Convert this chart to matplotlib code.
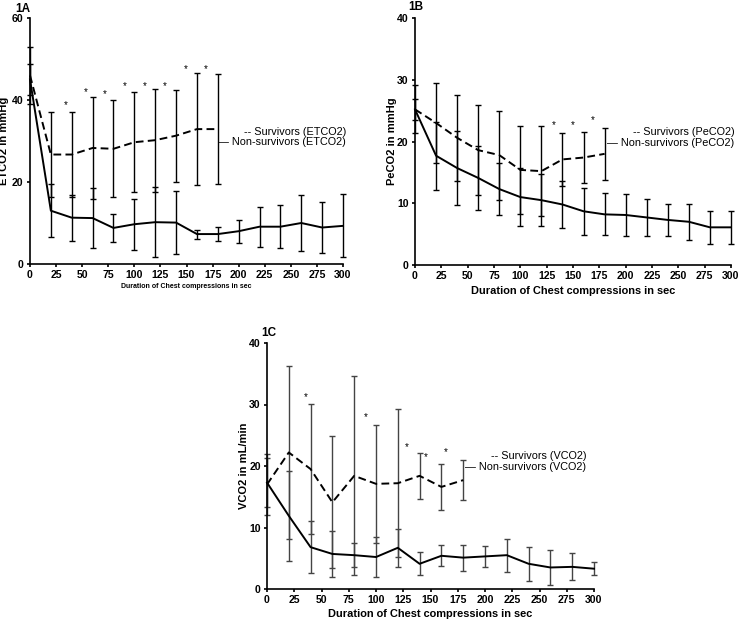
import matplotlib
matplotlib.use("Agg")
import matplotlib.pyplot as plt

plt.rcParams['font.family'] = ['Liberation Sans', 'DejaVu Sans']

# --- time points (sec) ---
time_s = [0, 20, 40, 60, 80, 100, 120, 140, 160, 180, 200, 220, 240, 260, 280, 300]
surv_time = [0, 20, 40, 60, 80, 100, 120, 140, 160, 180]
x_ticks = [0, 25, 50, 75, 100, 125, 150, 175, 200, 225, 250, 275, 300]

# --- 1A: ETCO2 ---
surv_etco2 = [46.0, 26.7, 26.7, 28.3, 28.1, 29.7, 30.2, 31.3, 32.9, 32.9]
surv_etco2_sd = [6.9, 10.4, 10.3, 12.4, 11.8, 12.2, 12.6, 11.2, 13.7, 13.5]
non_etco2 = [45.0, 13.0, 11.3, 11.2, 8.8, 9.7, 10.2, 10.1, 7.3, 7.3, 8.0, 9.1, 9.1, 10.0, 8.9, 9.3]
non_etco2_sd = [3.9, 6.5, 5.6, 7.3, 3.5, 6.2, 8.6, 7.7, 1.1, 1.8, 2.8, 4.9, 5.3, 6.8, 6.3, 7.7]
star_etco2_x = [34, 53, 72, 91, 110, 129, 149, 168]
star_etco2_y = [38.8, 42.0, 41.5, 43.3, 43.5, 43.5, 47.6, 47.6]

# --- 1B: PeCO2 ---
surv_peco2 = [25.2, 23.0, 20.6, 18.6, 17.8, 15.4, 15.2, 17.1, 17.4, 18.0]
surv_peco2_sd = [3.9, 6.5, 7.0, 7.3, 7.2, 7.1, 7.3, 4.3, 4.2, 4.2]
non_peco2 = [25.2, 17.7, 15.7, 14.1, 12.3, 11.0, 10.5, 9.8, 8.7, 8.2, 8.1, 7.7, 7.3, 7.0, 6.1, 6.1]
non_peco2_sd = [1.7, 5.5, 6.0, 5.2, 4.2, 4.7, 4.2, 3.8, 3.8, 3.4, 3.4, 3.0, 2.6, 2.9, 2.7, 2.7]
star_peco2_x = [132, 150, 169]
star_peco2_y = [22.7, 22.6, 23.5]

# --- 1C: VCO2 ---
surv_vco2 = [17.0, 22.2, 19.5, 14.1, 18.4, 17.1, 17.2, 18.4, 16.6, 17.7]
surv_vco2_sd = [5.0, 14.0, 10.6, 10.7, 16.2, 9.6, 12.0, 3.7, 3.8, 3.3]
non_vco2 = [17.3, 11.9, 6.8, 5.7, 5.5, 5.2, 6.7, 4.1, 5.4, 5.1, 5.3, 5.5, 4.1, 3.5, 3.6, 3.3]
non_vco2_sd = [4.0, 7.3, 4.2, 3.7, 1.9, 3.3, 3.1, 1.9, 1.7, 2.1, 1.7, 2.7, 2.8, 2.8, 2.2, 1.1]
star_vco2_x = [36, 91, 128, 146, 164]
star_vco2_y = [31.2, 27.9, 23.1, 21.5, 22.2]

W, H = 741, 622


def px_axes(left, top, right, bottom):
    return [left / W, 1 - bottom / H, (right - left) / W, (bottom - top) / H]


def draw_panel(ax, surv, surv_sd, non, non_sd, star_x, star_y, ymax, ystep,
               ylabel, xlabel_size, name, ecol, ylab_x, xlab_y, leg_x, leg_y):
    ax.errorbar(surv_time, surv, yerr=surv_sd, fmt='none', ecolor=ecol,
                elinewidth=1.0, capsize=2.0, capthick=1.0, clip_on=False, zorder=2)
    ax.errorbar(time_s, non, yerr=non_sd, fmt='none', ecolor=ecol,
                elinewidth=1.0, capsize=2.0, capthick=1.0, clip_on=False, zorder=2)
    ax.plot(surv_time, surv, color='black', lw=1.4, ls=(0, (4, 2.2)), clip_on=False, zorder=3)
    ax.plot(time_s, non, color='black', lw=1.4, clip_on=False, zorder=3)
    for sx, sy in zip(star_x, star_y):
        ax.text(sx, sy, '*', ha='center', va='center', fontsize=7)

    ax.set_xlim(0, 300)
    ax.set_ylim(0, ymax)
    ax.set_xticks(x_ticks)
    ax.set_yticks(list(range(0, ymax + 1, ystep)))
    for s in ['top', 'right']:
        ax.spines[s].set_visible(False)
    for s in ['left', 'bottom']:
        ax.spines[s].set_linewidth(1.2)
    ax.tick_params(direction='out', length=2.5, width=1.2, labelsize=7.6, pad=2)
    for lab in ax.get_xticklabels() + ax.get_yticklabels():
        lab.set_fontweight('bold')

    ax.set_ylabel(ylabel, fontsize=8, fontweight='bold')
    ax.yaxis.set_label_coords(ylab_x, 0.5)
    ax.set_xlabel('Duration of Chest compressions in sec', fontsize=xlabel_size,
                  fontweight='bold')
    ax.xaxis.set_label_coords(0.5, xlab_y)

    ax.text(leg_x, leg_y[0], '-- Survivors (' + name + ')', transform=ax.transAxes,
            ha='right', va='center', fontsize=7.8)
    ax.text(leg_x, leg_y[1], '\u2014 Non-survivors (' + name + ')', transform=ax.transAxes,
            ha='right', va='center', fontsize=7.8)


fig = plt.figure(figsize=(W / 100, H / 100), dpi=100)

ax_a = fig.add_axes(px_axes(30, 18, 343, 264))
draw_panel(ax_a, surv_etco2, surv_etco2_sd, non_etco2, non_etco2_sd,
           star_etco2_x, star_etco2_y, 60, 20, 'ETCO2 in mmHg', 5.0, 'ETCO2',
           'black', -0.068, -0.077, 1.01, (0.537, 0.496))

ax_b = fig.add_axes(px_axes(415, 18, 731, 265))
draw_panel(ax_b, surv_peco2, surv_peco2_sd, non_peco2, non_peco2_sd,
           star_peco2_x, star_peco2_y, 40, 10, 'PeCO2 in mmHg', 7.9, 'PeCO2',
           'black', -0.056, -0.085, 1.01, (0.538, 0.494))

ax_c = fig.add_axes(px_axes(267, 343, 594, 589))
draw_panel(ax_c, surv_vco2, surv_vco2_sd, non_vco2, non_vco2_sd,
           star_vco2_x, star_vco2_y, 40, 10, 'VCO2 in mL/min', 7.9, 'VCO2',
           '#444444', -0.055, -0.08, 0.976, (0.539, 0.497))

fig.text(15 / W, 1 - 8.5 / H, '1A', fontsize=8.5, fontweight='bold', ha='left', va='center')
fig.text(408 / W, 1 - 6.5 / H, '1B', fontsize=8.5, fontweight='bold', ha='left', va='center')
fig.text(261 / W, 1 - 333 / H, '1C', fontsize=8.5, fontweight='bold', ha='left', va='center')

fig.savefig('out.png', dpi=100)
